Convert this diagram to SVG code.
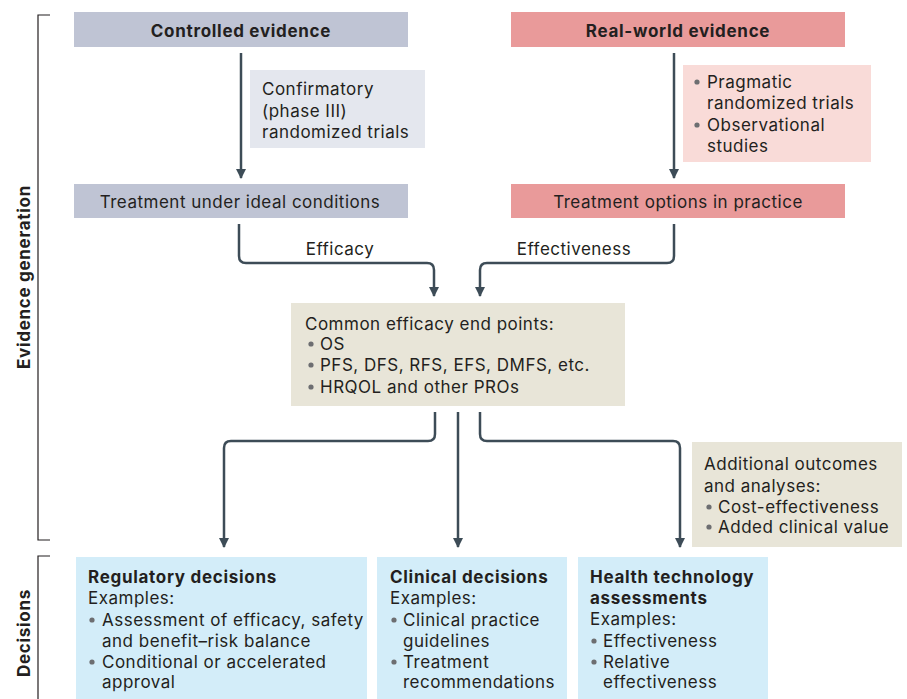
<svg xmlns="http://www.w3.org/2000/svg" width="907" height="699" viewBox="0 0 907 699">
<defs>
<style>
text{font-family:Inter,"Noto Sans","Liberation Sans",sans-serif;font-size:17px;fill:#231f20;letter-spacing:0.5px}
.b{font-weight:bold;letter-spacing:0.7px}
.c{text-anchor:middle}
.dot{fill:#6d6e71}
.con{fill:none;stroke:#3d4c57;stroke-width:2.5}
.brk{fill:none;stroke:#231f20;stroke-width:1.2}
</style>
<marker id="ah" viewBox="0 0 10 10" refX="9" refY="5" markerWidth="4" markerHeight="4" orient="auto" markerUnits="strokeWidth">
<path d="M0,0 L10,5 L0,10 z" fill="#3d4c57"/>
</marker>
</defs>
<rect width="907" height="699" fill="#fff"/>

<g id="brackets">
<path class="brk" d="M50,15 H38 V540 H50"/>
<path class="brk" d="M50,556 H38 V699"/>
<text class="b c" transform="translate(30,277) rotate(-90)">Evidence generation</text>
<text class="b c" transform="translate(30,633) rotate(-90)">Decisions</text>
</g>

<g id="connectors">
<path class="con" d="M241,53 V178" marker-end="url(#ah)"/>
<path class="con" d="M674,53 V178" marker-end="url(#ah)"/>
<path class="con" d="M239,224 V256 Q239,263 246,263 H427 Q434,263 434,270 V296" marker-end="url(#ah)"/>
<path class="con" d="M674,224 V256 Q674,263 667,263 H487 Q480,263 480,270 V296" marker-end="url(#ah)"/>
<path class="con" d="M435,412 V434 Q435,441 428,441 H231 Q224,441 224,448 V547" marker-end="url(#ah)"/>
<path class="con" d="M458,412 V547" marker-end="url(#ah)"/>
<path class="con" d="M480,412 V434 Q480,441 487,441 H673 Q680,441 680,448 V547" marker-end="url(#ah)"/>
</g>

<g id="controlled">
<rect x="74" y="12" width="334" height="35" fill="#bfc4d4"/>
<text class="b c" x="241" y="37">Controlled evidence</text>
</g>

<g id="realworld">
<rect x="511" y="12" width="334" height="35" fill="#e99a9a"/>
<text class="b c" x="678" y="37">Real-world evidence</text>
</g>

<g id="confirmatory">
<rect x="250" y="70" width="175" height="78" fill="#e4e7ee"/>
<text x="262" y="95">Confirmatory</text>
<text x="262" y="117">(phase III)</text>
<text x="262" y="138">randomized trials</text>
</g>

<g id="pragmatic">
<rect x="683" y="65" width="188" height="97" fill="#f9dbd8"/>
<circle class="dot" cx="697" cy="82" r="2.6"/>
<text x="707" y="88">Pragmatic</text>
<text x="707" y="109">randomized trials</text>
<circle class="dot" cx="697" cy="125" r="2.6"/>
<text x="707" y="131">Observational</text>
<text x="707" y="152">studies</text>
</g>

<g id="ideal">
<rect x="74" y="184" width="334" height="34" fill="#bfc4d4"/>
<text class="c" x="240" y="208">Treatment under ideal conditions</text>
</g>

<g id="practice">
<rect x="511" y="184" width="334" height="34" fill="#e99a9a"/>
<text class="c" x="678" y="208">Treatment options in practice</text>
</g>

<g id="labels">
<text class="c" x="340" y="255">Efficacy</text>
<text class="c" x="574" y="255">Effectiveness</text>
</g>

<g id="endpoints">
<rect x="291" y="303" width="334" height="103" fill="#e8e5d8"/>
<text x="305" y="330">Common efficacy end points:</text>
<circle class="dot" cx="311" cy="344" r="2.6"/>
<text x="320" y="350">OS</text>
<circle class="dot" cx="311" cy="365" r="2.6"/>
<text x="320" y="371">PFS, DFS, RFS, EFS, DMFS, etc.</text>
<circle class="dot" cx="311" cy="387" r="2.6"/>
<text x="320" y="393">HRQOL and other PROs</text>
</g>

<g id="additional">
<rect x="692" y="442" width="210" height="105" fill="#e8e5d8"/>
<text x="704" y="470">Additional outcomes</text>
<text x="704" y="492">and analyses:</text>
<circle class="dot" cx="709" cy="507" r="2.6"/>
<text x="718" y="513">Cost-effectiveness</text>
<circle class="dot" cx="709" cy="527" r="2.6"/>
<text x="718" y="533">Added clinical value</text>
</g>

<g id="regulatory">
<rect x="76" y="557" width="291" height="142" fill="#d3edf9"/>
<text class="b" x="88" y="583">Regulatory decisions</text>
<text x="88" y="604">Examples:</text>
<circle class="dot" cx="92" cy="620" r="2.6"/>
<text x="102" y="626">Assessment of efficacy, safety</text>
<text x="102" y="647">and benefit–risk balance</text>
<circle class="dot" cx="92" cy="662" r="2.6"/>
<text x="102" y="668">Conditional or accelerated</text>
<text x="102" y="688">approval</text>
</g>

<g id="clinical">
<rect x="377" y="557" width="190" height="142" fill="#d3edf9"/>
<text class="b" x="390" y="583">Clinical decisions</text>
<text x="390" y="604">Examples:</text>
<circle class="dot" cx="394" cy="620" r="2.6"/>
<text x="403" y="626">Clinical practice</text>
<text x="403" y="647">guidelines</text>
<circle class="dot" cx="394" cy="662" r="2.6"/>
<text x="403" y="668">Treatment</text>
<text x="403" y="688">recommendations</text>
</g>

<g id="hta">
<rect x="578" y="557" width="190" height="142" fill="#d3edf9"/>
<text class="b" x="590" y="583">Health technology</text>
<text class="b" x="590" y="604">assessments</text>
<text x="590" y="625">Examples:</text>
<circle class="dot" cx="594" cy="641" r="2.6"/>
<text x="603" y="647">Effectiveness</text>
<circle class="dot" cx="594" cy="662" r="2.6"/>
<text x="603" y="668">Relative</text>
<text x="603" y="688">effectiveness</text>
</g>
</svg>
